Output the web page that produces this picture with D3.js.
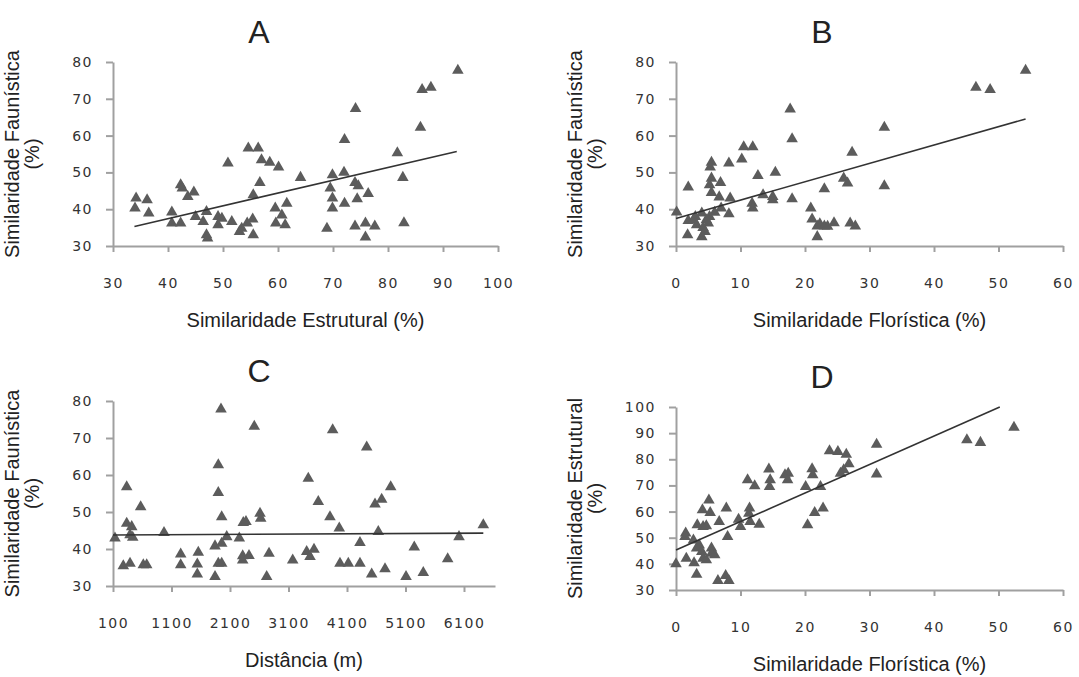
<!DOCTYPE html>
<html>
<head>
<meta charset="utf-8">
<script src="https://cdn.jsdelivr.net/npm/d3@7"></script>
<style>
  body { margin: 0; background: white; }
  .tick text { font-family: "DejaVu Sans", sans-serif; font-size: 14px; fill: #333; letter-spacing: 1.5px; }
  .lbl { font-family: "Liberation Sans", Arial, sans-serif; font-size: 20px; fill: #222; }
  .ttl { font-family: "Liberation Sans", Arial, sans-serif; font-size: 32px; fill: #222; }
</style>
</head>
<body>
<div id="chart"></div>
<script>
// values
var ptsA = [[34.2,43.0],[34.0,40.3],[36.2,42.5],[36.5,38.9],[42.3,46.6],[42.6,45.7],[43.6,43.4],[44.7,44.6],
  [40.7,39.2],[40.7,36.2],[42.3,36.2],[45.0,38.0],[46.4,36.6],[47.0,39.3],[47.0,33.0],[47.2,32.1],
  [49.1,38.0],[49.8,37.5],[49.1,35.7],[51.6,36.6],[50.9,52.5],[53.0,33.9],[53.4,34.8],[54.4,36.2],
  [55.4,37.3],[55.5,33.0],[54.6,56.6],[56.4,56.6],[57.0,53.4],[58.5,52.7],[60.1,51.4],[56.7,47.2],
  [55.5,43.9],[59.5,40.3],[60.7,38.4],[61.6,41.6],[59.6,36.2],[61.3,35.7],[64.1,48.6],[69.9,49.3],
  [72.0,50.0],[69.5,45.7],[69.9,43.0],[69.9,40.3],[72.1,41.6],[74.0,47.2],[74.6,46.3],[74.4,42.8],
  [76.4,44.2],[68.9,34.8],[74.0,35.4],[75.9,36.2],[77.6,35.4],[75.9,32.4],[72.1,58.9],[74.1,67.3],
  [81.7,55.3],[82.7,48.6],[82.9,36.3],[85.9,62.2],[86.2,72.5],[87.8,73.1],[92.7,77.7]];

var ptsB = [[0.1,39.2],[1.9,46.0],[1.9,36.9],[1.8,33.0],[2.7,37.1],[3.2,35.7],[4.0,38.9],[4.0,32.5],
  [4.5,33.9],[4.7,37.1],[5.0,36.2],[5.2,38.0],[5.5,52.7],[5.3,51.4],[5.5,48.4],[5.2,46.6],[5.5,44.5],
  [6.0,39.1],[6.7,43.3],[6.9,47.2],[7.0,40.3],[8.2,52.5],[8.4,43.0],[8.2,38.7],[10.2,53.6],[10.5,56.9],
  [11.9,56.9],[11.8,41.6],[11.9,40.3],[12.7,49.1],[13.5,43.9],[15.0,43.4],[15.4,50.0],[15.0,42.5],
  [17.7,67.2],[18.0,59.1],[18.0,42.8],[20.9,40.3],[21.1,37.3],[21.9,35.4],[21.9,32.5],[22.3,36.0],
  [23.0,35.4],[23.0,45.5],[23.5,35.3],[24.5,36.3],[26.0,48.4],[26.6,47.1],[27.3,55.4],[27.0,36.2],
  [27.8,35.4],[32.3,62.2],[32.3,46.3],[46.5,73.1],[48.7,72.5],[54.2,77.7],[3.0,38.0],[4.2,35.0]];

var ptsC = [[134,42.9],[334,56.8],[334,46.9],[420,46.0],[437,43.1],[391,43.8],[276,35.4],[391,36.1],
  [573,51.4],[618,35.7],[676,35.7],[972,44.4],[1257,38.6],[1257,35.7],[1541,35.9],[1541,33.2],
  [1558,39.1],[1844,32.5],[1844,40.8],[1900,36.1],[1958,36.1],[1958,41.5],[1946,77.8],[1900,62.7],
  [1900,55.2],[1958,48.7],[2044,43.3],[2259,42.9],[2317,38.1],[2317,37.0],[2425,38.2],[2327,47.1],
  [2373,47.4],[2515,73.1],[2613,49.6],[2625,48.3],[2727,32.5],[2767,38.8],[3172,37.0],[3438,59.1],
  [3411,39.3],[3468,37.9],[3536,39.9],[3609,52.8],[3855,72.2],[4437,67.5],[3809,48.7],[3968,45.6],
  [4635,44.7],[4847,56.8],[4693,53.4],[4579,52.1],[4322,41.7],[3980,36.1],[4122,36.1],[4322,36.1],
  [4522,33.2],[4750,34.6],[5109,32.5],[5250,40.5],[5404,33.6],[5821,37.3],[6015,43.3],[6430,46.5]];

var ptsD = [[0,40.0],[1.5,51.7],[1.4,50.4],[1.6,42.1],[2.7,49.1],[2.8,40.4],[3.2,36.0],[3.3,54.9],
  [3.2,46.0],[3.6,47.2],[4.1,60.6],[4.2,54.2],[4.7,54.5],[5.1,64.4],[5.3,59.6],[4.0,44.7],[4.2,42.1],
  [4.7,41.5],[5.5,46.0],[5.5,44.0],[6.0,43.4],[6.7,56.1],[7.8,61.3],[8.0,50.4],[6.5,33.6],[7.7,35.5],
  [8.2,33.6],[9.7,57.0],[10.0,54.2],[11.1,72.1],[11.4,61.3],[11.3,59.3],[11.5,56.1],[12.2,69.8],
  [12.9,55.1],[14.4,76.2],[14.6,72.1],[14.5,69.5],[16.9,74.0],[17.4,74.6],[17.3,72.1],[20.1,69.5],
  [20.4,54.9],[21.1,76.3],[21.2,74.0],[21.5,59.6],[22.8,61.3],[22.4,69.5],[23.8,83.2],[25.1,82.9],
  [26.4,81.9],[26.8,78.2],[26.0,75.9],[25.5,74.6],[31.1,85.7],[31.1,74.3],[45.1,87.4],[47.2,86.4],
  [52.4,92.2]];

// trend lines (end points)
var trendA = [[33.9,35.3],[92.5,55.7]];
var trendB = [[0,37.5],[54.2,64.5]];
var trendC = [[100,43.8],[6430,44.3]];
var trendD = [[0,45.3],[50.2,100]];

var ticksPct100 = [30,40,50,60,70,80,90,100];
var ticksPct60 = [0,10,20,30,40,50,60];
var ticksDist = [100,1100,2100,3100,4100,5100,6100];
var ticksFaun = [30,40,50,60,70,80];
var ticksEstr = [30,40,50,60,70,80,90,100];

var svg = d3.select("#chart").append("svg")
  .attr("width", 1079)
  .attr("height", 677);

function drawPanel(p) {
  var x = d3.scaleLinear().domain(p.xDomain).range([p.left, p.right]);
  var y = d3.scaleLinear().domain(p.yDomain).range([p.bottom, p.top]);
  var g = svg.append("g");

  var gx = g.append("g")
    .attr("transform", `translate(0, ${p.bottom})`)
    .call(d3.axisBottom(x).tickValues(p.xTicks).tickFormat(d3.format("d"))
      .tickSizeInner(6).tickSizeOuter(0).tickPadding(26));
  var gy = g.append("g")
    .attr("transform", `translate(${p.left}, 0)`)
    .call(d3.axisLeft(y).tickValues(p.yTicks).tickFormat(d3.format("d"))
      .tickSizeInner(7).tickSizeOuter(0).tickPadding(13));
  [gx, gy].forEach(function(a) {
    a.select(".domain").attr("stroke", "#a0a0a0").attr("stroke-width", 2);
    a.selectAll(".tick line").attr("stroke", "#a0a0a0").attr("stroke-width", 2);
  });

  g.append("g").selectAll("path")
    .data(p.pts)
    .enter()
    .append("path")
    .attr("d", d3.symbol(d3.symbolTriangle, 58))
    .attr("transform", d => `translate(${x(d[0])}, ${y(d[1])})`)
    .attr("fill", "#5c5c5c");

  g.append("path")
    .datum(p.trend)
    .attr("d", d3.line().x(d => x(d[0])).y(d => y(d[1])))
    .attr("fill", "none")
    .attr("stroke", "#333")
    .attr("stroke-width", 1.6);

  // labels
  g.append("text").attr("class", "ttl")
    .attr("x", p.titleX).attr("y", p.top - 19)
    .attr("text-anchor", "middle").text(p.title);
  g.append("text").attr("class", "lbl")
    .attr("x", (p.left + p.right) / 2).attr("y", p.bottom + 81)
    .attr("text-anchor", "middle").text(p.xLabel);
  var cy = (p.top + p.bottom) / 2;
  g.append("text").attr("class", "lbl")
    .attr("transform", `translate(${p.left - 94}, ${cy}) rotate(-90)`)
    .attr("text-anchor", "middle").text(p.yLabel);
  g.append("text").attr("class", "lbl")
    .attr("transform", `translate(${p.left - 74}, ${cy}) rotate(-90)`)
    .attr("text-anchor", "middle").text("(%)");
}

drawPanel({title: "A", titleX: 259, left: 113, right: 498, top: 62, bottom: 246,
  xDomain: [30, 100], yDomain: [30, 80], xTicks: ticksPct100, yTicks: ticksFaun,
  pts: ptsA, trend: trendA, xLabel: "Similaridade Estrutural (%)", yLabel: "Similaridade Faunística"});
drawPanel({title: "B", titleX: 822, left: 676, right: 1063, top: 62, bottom: 246,
  xDomain: [0, 60], yDomain: [30, 80], xTicks: ticksPct60, yTicks: ticksFaun,
  pts: ptsB, trend: trendB, xLabel: "Similaridade Florística (%)", yLabel: "Similaridade Faunística"});
drawPanel({title: "C", titleX: 259, left: 113, right: 495, top: 401, bottom: 586,
  xDomain: [100, 6630], yDomain: [30, 80], xTicks: ticksDist, yTicks: ticksFaun,
  pts: ptsC, trend: trendC, xLabel: "Distância (m)", yLabel: "Similaridade Faunística"});
drawPanel({title: "D", titleX: 822, left: 676, right: 1063, top: 407, bottom: 590,
  xDomain: [0, 60], yDomain: [30, 100], xTicks: ticksPct60, yTicks: ticksEstr,
  pts: ptsD, trend: trendD, xLabel: "Similaridade Florística (%)", yLabel: "Similaridade Estrutural"});
</script>
</body>
</html>
